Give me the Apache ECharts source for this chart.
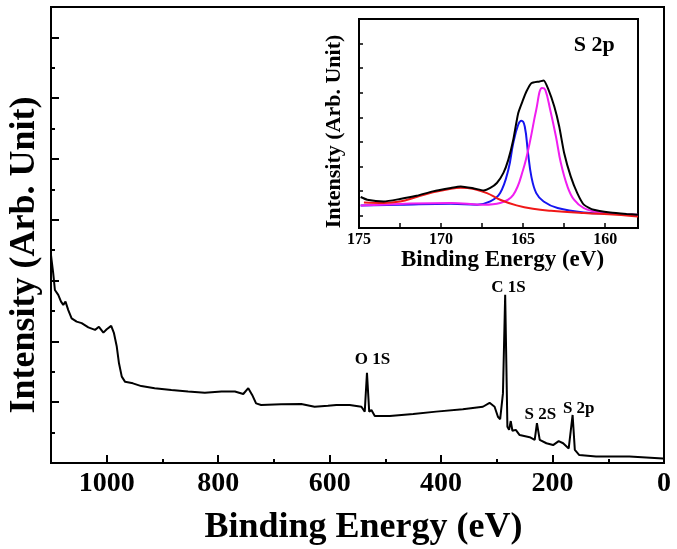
<!DOCTYPE html>
<html>
<head>
<meta charset="utf-8">
<script src="https://cdn.jsdelivr.net/npm/echarts@6/dist/echarts.min.js"></script>
<style>
  html, body { margin: 0; padding: 0; background: #fff; }
  #main { width: 677px; height: 549px; }
</style>
</head>
<body>
<div id="main"></div>
<script>
// survey spectrum (binding energy eV, intensity arb.)
var surveyE = [1100,1099,1096,1093,1087,1082,1078,1074,1069,1063,1054,1045,1033,1021,1014,1006,1000,992,987,982,
  978,973,967,953,938,914,884,854,824,794,770,755,746,739,732,723,687,651,627,603,
  588,564,543,537,533,529,525,519,492,450,409,361,325,313,304,298,294,289,285,281,
  278,275,272,266,259,241,232,228,223,211,199,189,181,171,164,160,152,122,92,62,2,0];
var surveyI = [6.84,6.68,6.24,5.69,5.53,5.31,5.2,5.31,5.03,4.76,4.65,4.6,4.46,4.38,4.48,4.29,4.4,4.51,4.27,3.83,
  3.28,2.84,2.67,2.62,2.53,2.46,2.4,2.35,2.31,2.35,2.35,2.27,2.46,2.24,1.96,1.91,1.93,1.94,1.85,1.88,
  1.91,1.91,1.85,1.69,2.97,1.69,1.74,1.55,1.55,1.61,1.69,1.77,1.85,1.98,1.85,1.52,1.44,2.29,5.53,1.19,
  1.09,1.38,1.06,1.09,0.92,0.85,0.76,1.31,0.76,0.65,0.59,0.72,0.65,0.48,1.58,0.43,0.26,0.21,0.21,0.21,0.15,0.15];

// peak labels on the survey
var peakNames = ['O 1S', 'C 1S', 'S 2S', 'S 2p'];
var peakLabelE = [523, 279, 222, 153];
var peakLabelI = [3.39, 5.76, 1.58, 1.78];

// S 2p high resolution (inset)
var s2pE = [174.9,174.5,173.5,172.5,171.5,170.5,169.4,168.8,168.0,167.4,167.0,166.6,166.2,165.9,165.6,165.3,165.0,164.8,164.5,164.0,
  163.75,163.45,163.1,162.8,162.5,162.1,161.7,161.3,160.7,159.7,158.7,158.0];
var s2pI = [1.26,1.15,1.08,1.18,1.31,1.49,1.63,1.69,1.61,1.53,1.63,1.83,2.24,2.78,3.59,4.67,5.22,5.55,5.89,5.96,
  6.0,5.62,4.94,4.13,3.05,2.1,1.42,0.95,0.74,0.63,0.57,0.54];
var redE = [174.7,173.5,172.5,171.5,170.5,169.4,168.8,168.0,167.2,166.4,165.4,164.4,163.3,161.3,159.3,158.0];
var redI = [1.04,1.02,1.08,1.26,1.45,1.6,1.64,1.59,1.42,1.15,0.92,0.78,0.70,0.61,0.54,0.47];
var blueE = [174.9,172.5,169.4,167.8,167.0,166.4,165.9,165.6,165.3,165.1,164.9,164.7,164.5,164.2,163.75,162.9,161.3,159.3,158.0];
var blueI = [0.92,0.95,0.99,0.95,1.08,1.42,2.37,3.46,4.2,4.36,4.13,3.05,2.1,1.42,1.08,0.81,0.63,0.57,0.5];
var pinkE = [174.9,169.4,167.4,166.4,165.6,165.0,164.6,164.2,163.85,163.65,163.35,163.0,162.7,162.3,161.9,161.3,160.3,158.0];
var pinkI = [0.92,1.02,0.95,1.02,1.35,2.37,3.46,4.81,5.69,5.62,4.81,3.72,2.64,1.69,1.15,0.81,0.63,0.54];

// ticks
var mainXLabels = [0, 200, 400, 600, 800, 1000];
var mainXMinor = [100, 300, 500, 700, 900];
var mainYMajor = [2, 4, 6, 8, 10, 12, 14];
var mainYMinor = [1, 3, 5, 7, 9, 11, 13];
var insetXLabels = [160, 165, 170, 175];
var insetXTicks = [160, 162.5, 165, 167.5, 170, 172.5];
var insetYTicks = [0.5, 1.5, 2.5, 3.5, 4.5, 5.5, 6.5, 7.5];

function pairs(xs, ys) {
  return xs.map(function (x, i) { return [x, ys[i]]; });
}

var font = 'Liberation Serif';
var myChart = echarts.init(document.getElementById('main'));
myChart.setOption({
  backgroundColor: '#fff',
  animation: false,
  grid: [
    { left: 51, right: 13, top: 7, bottom: 86, show: true, borderColor: '#000', borderWidth: 2, outerBoundsMode: 'none' },
    { left: 359, right: 39, top: 19, bottom: 321, show: true, borderColor: '#000', borderWidth: 2,
      backgroundColor: '#fff', outerBoundsMode: 'none' }
  ],
  xAxis: [
    {
      type: 'value', gridIndex: 0, position: 'bottom', min: 0, max: 1100, inverse: true,
      name: 'Binding Energy (eV)', nameLocation: 'middle', nameGap: 47,
      nameTextStyle: { fontFamily: font, fontWeight: 'bold', fontSize: 36, color: '#000', padding: [0, 0, 0, 12] },
      axisLine: { onZero: false, lineStyle: { color: '#000', width: 2 } },
      axisTick: { inside: true, length: 8, customValues: mainXLabels, lineStyle: { color: '#000', width: 2 } },
      axisLabel: { customValues: mainXLabels, margin: 7, fontFamily: font, fontWeight: 'bold', fontSize: 28, color: '#000',
        formatter: function (v) { return String(v); } },
      splitLine: { show: false }
    },
    {
      // minor ticks, moved from the top side down onto the bottom line
      type: 'value', gridIndex: 0, position: 'top', offset: -456, min: 0, max: 1100, inverse: true,
      axisLine: { show: false, onZero: false },
      axisTick: { inside: false, length: 4, customValues: mainXMinor, lineStyle: { color: '#000', width: 2 } },
      axisLabel: { show: false },
      splitLine: { show: false }
    },
    {
      type: 'value', gridIndex: 1, position: 'bottom', min: 158, max: 175, inverse: true,
      name: 'Binding Energy (eV)', nameLocation: 'middle', nameGap: 21,
      nameTextStyle: { fontFamily: font, fontWeight: 'bold', fontSize: 23, color: '#000', padding: [0, 0, 0, 8] },
      axisLine: { onZero: false, lineStyle: { color: '#000', width: 2 } },
      axisTick: { inside: true, length: 5, customValues: insetXTicks, lineStyle: { color: '#000', width: 1.5 } },
      axisLabel: { customValues: insetXLabels, margin: 4, fontFamily: font, fontWeight: 'bold', fontSize: 16, color: '#000' },
      splitLine: { show: false }
    }
  ],
  yAxis: [
    {
      type: 'value', gridIndex: 0, position: 'left', min: 0, max: 15,
      name: 'Intensity (Arb. Unit)', nameLocation: 'middle', nameGap: 8,
      nameTextStyle: { fontFamily: font, fontWeight: 'bold', fontSize: 36, color: '#000', padding: [0, 40, 0, 0] },
      axisLine: { onZero: false, lineStyle: { color: '#000', width: 2 } },
      axisTick: { inside: true, length: 8, customValues: mainYMajor, lineStyle: { color: '#000', width: 2 } },
      axisLabel: { show: false },
      splitLine: { show: false }
    },
    {
      // minor ticks, moved from the right side back onto the left line
      type: 'value', gridIndex: 0, position: 'right', offset: -613, min: 0, max: 15,
      axisLine: { show: false, onZero: false },
      axisTick: { inside: false, length: 4, customValues: mainYMinor, lineStyle: { color: '#000', width: 2 } },
      axisLabel: { show: false },
      splitLine: { show: false }
    },
    {
      type: 'value', gridIndex: 1, position: 'left', min: 0, max: 8.5,
      name: 'Intensity (Arb. Unit)', nameLocation: 'middle', nameGap: 14,
      nameTextStyle: { fontFamily: font, fontWeight: 'bold', fontSize: 22, color: '#000', padding: [0, 16, 0, 0] },
      axisLine: { onZero: false, lineStyle: { color: '#000', width: 2 } },
      axisTick: { inside: true, length: 4, customValues: insetYTicks, lineStyle: { color: '#000', width: 1.5 } },
      axisLabel: { show: false },
      splitLine: { show: false }
    }
  ],
  series: [
    {
      type: 'line', xAxisIndex: 0, yAxisIndex: 0, data: pairs(surveyE, surveyI),
      showSymbol: false, lineStyle: { color: '#000', width: 2 }
    },
    {
      type: 'scatter', xAxisIndex: 0, yAxisIndex: 0, symbolSize: 0, silent: true,
      itemStyle: { opacity: 1 },
      data: peakNames.map(function (n, i) { return { value: [peakLabelE[i], peakLabelI[i]], name: n }; }),
      label: { show: true, position: 'inside', formatter: '{b}', fontFamily: font, fontWeight: 'bold', fontSize: 17,
        color: '#000', opacity: 1, textBorderWidth: 0 }
    },
    {
      type: 'line', xAxisIndex: 2, yAxisIndex: 2, data: pairs(blueE, blueI), z: 3,
      showSymbol: false, smooth: 0.4, lineStyle: { color: '#1515f0', width: 2 }
    },
    {
      type: 'line', xAxisIndex: 2, yAxisIndex: 2, data: pairs(pinkE, pinkI), z: 3,
      showSymbol: false, smooth: 0.4, lineStyle: { color: '#f01ef0', width: 2 }
    },
    {
      type: 'line', xAxisIndex: 2, yAxisIndex: 2, data: pairs(redE, redI), z: 3,
      showSymbol: false, smooth: 0.4, lineStyle: { color: '#f01818', width: 2 }
    },
    {
      type: 'line', xAxisIndex: 2, yAxisIndex: 2, data: pairs(s2pE, s2pI), z: 4,
      showSymbol: false, smooth: 0.2, lineStyle: { color: '#000', width: 2 }
    },
    {
      type: 'scatter', xAxisIndex: 2, yAxisIndex: 2, symbolSize: 0, silent: true,
      itemStyle: { opacity: 1 },
      data: [{ value: [160.67, 7.42], name: 'S 2p' }],
      label: { show: true, position: 'inside', formatter: '{b}', fontFamily: font, fontWeight: 'bold', fontSize: 22,
        color: '#000', opacity: 1, textBorderWidth: 0 }
    }
  ]
});
</script>
</body>
</html>
